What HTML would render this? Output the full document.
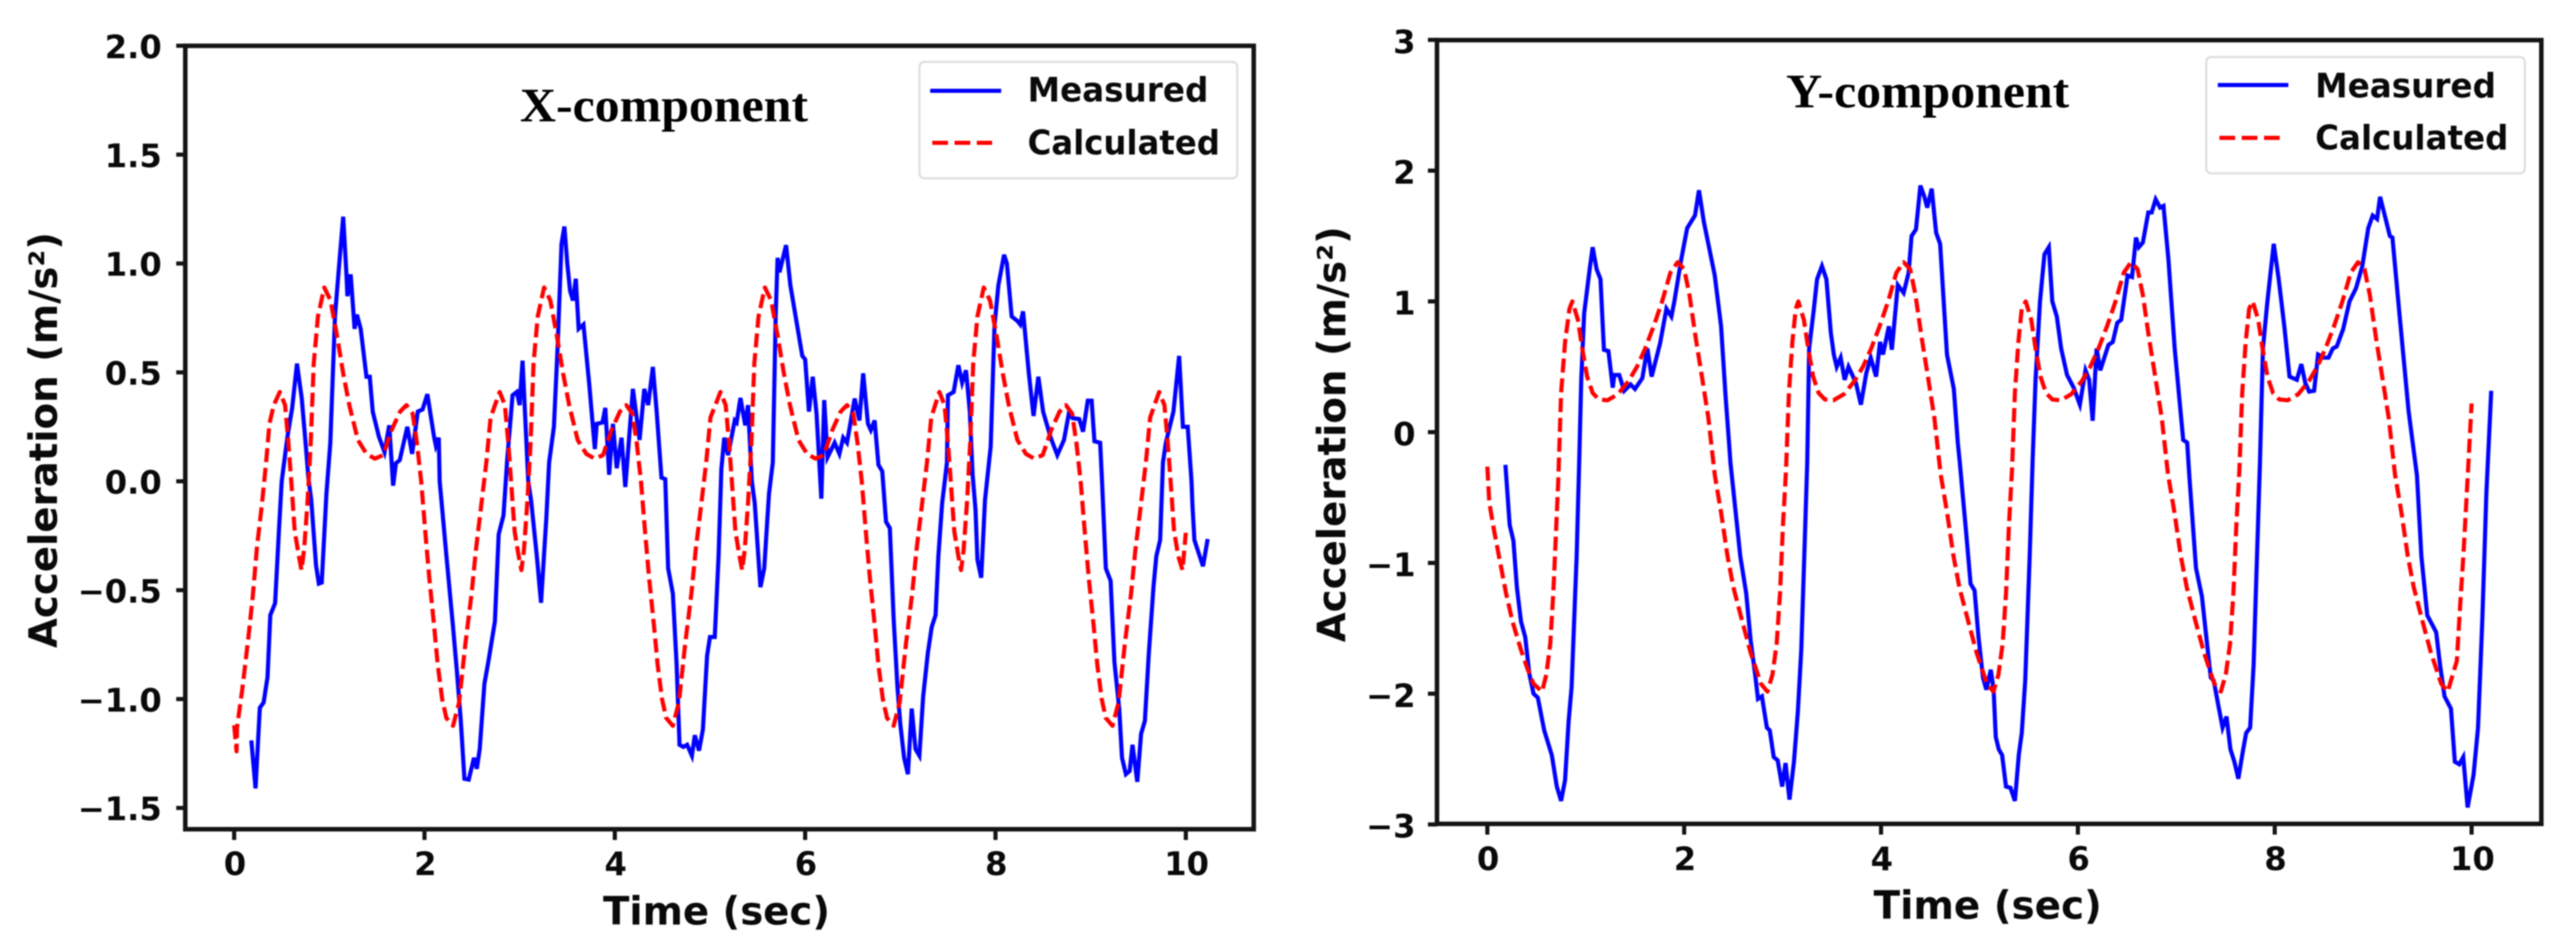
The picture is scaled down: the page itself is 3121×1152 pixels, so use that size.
<!DOCTYPE html>
<html>
<head>
<meta charset="utf-8">
<title>Measured vs calculated acceleration</title>
<style>
html,body{margin:0;padding:0;background:#fff;width:3121px;height:1152px;overflow:hidden}
svg{display:block;filter:blur(.8px)}
.tick{font-family:"DejaVu Sans",sans-serif;font-weight:700;font-size:39px;fill:#0a0a0a}
.axis-label{font-family:"DejaVu Sans",sans-serif;font-weight:700;font-size:47px;fill:#0a0a0a}
.legend-text{font-family:"DejaVu Sans",sans-serif;font-weight:700;font-size:41px;fill:#0a0a0a}
.title{font-family:"Liberation Serif",serif;font-weight:700;font-size:58px;fill:#000}
</style>
</head>
<body>
<svg id="figure" xmlns="http://www.w3.org/2000/svg" width="3121" height="1152" viewBox="0 0 3121 1152">
  <rect x="0" y="0" width="3121" height="1152" fill="#fff"/>
  <g id="panel-x"></g>
  <g id="panel-y"></g>

  <text class="title" x="630" y="147" textLength="349" lengthAdjust="spacingAndGlyphs">X-component</text>
  <text class="axis-label" x="730.6" y="1120" textLength="275" lengthAdjust="spacingAndGlyphs">Time (sec)</text>
  <text class="axis-label" transform="translate(69,785) rotate(-90)" x="0" y="0" textLength="504" lengthAdjust="spacingAndGlyphs">Acceleration (m/s²)</text>
  <g>
    <rect x="1114" y="75" width="385" height="141" rx="6" fill="#fff" fill-opacity=".85" stroke="#ddd" stroke-width="2.5"/>
    <line x1="1127" y1="110" x2="1213" y2="110" stroke="#0000ff" stroke-width="5"/>
    <text class="legend-text" x="1245" y="123" textLength="219" lengthAdjust="spacingAndGlyphs">Measured</text>
    <line x1="1129.5" y1="173" x2="1202" y2="173" stroke="#ff0000" stroke-width="5" stroke-dasharray="19 8"/>
    <text class="legend-text" x="1245" y="187" textLength="233" lengthAdjust="spacingAndGlyphs">Calculated</text>
  </g>

  <text class="title" x="2164" y="130" textLength="343" lengthAdjust="spacingAndGlyphs">Y-component</text>
  <text class="axis-label" x="2270" y="1113" textLength="276.5" lengthAdjust="spacingAndGlyphs">Time (sec)</text>
  <text class="axis-label" transform="translate(1630,778) rotate(-90)" x="0" y="0" textLength="504" lengthAdjust="spacingAndGlyphs">Acceleration (m/s²)</text>
  <g>
    <rect x="2673" y="69" width="386" height="141" rx="6" fill="#fff" fill-opacity=".85" stroke="#ddd" stroke-width="2.5"/>
    <line x1="2687" y1="103" x2="2772.5" y2="103" stroke="#0000ff" stroke-width="5"/>
    <text class="legend-text" x="2805" y="118" textLength="219" lengthAdjust="spacingAndGlyphs">Measured</text>
    <line x1="2689" y1="167" x2="2762" y2="167" stroke="#ff0000" stroke-width="5" stroke-dasharray="19 8"/>
    <text class="legend-text" x="2805" y="181" textLength="234" lengthAdjust="spacingAndGlyphs">Calculated</text>
  </g>
</svg>
<script>
const timeTicks = [0, 2, 4, 6, 8, 10];
const xChartAccelTicks = [2.0, 1.5, 1.0, 0.5, 0.0, -0.5, -1.0, -1.5];
const yChartAccelTicks = [3, 2, 1, 0, -1, -2, -3];

const xMeasuredTimes = [.18,.225,.27,.31,.35,.38,.43,.47,.5,.56,.61,.66,.71,.75,.78,.81,.86,.89,.92,.97,1.01,1.06,1.10,1.146,1.18,1.19,1.225,1.265,1.29,1.33,1.39,1.425,1.456,1.52,1.58,1.63,1.67,1.70,1.74,1.82,1.87,1.93,1.98,2.03,2.10,2.12,2.15,2.16,2.18,2.23,2.30,2.34,2.38,2.42,2.465,2.52,2.55,2.58,2.63,2.67,2.74,2.78,2.83,2.87,2.925,2.97,3.0,3.03,3.09,3.12,3.18,3.225,3.28,3.31,3.36,3.40,3.44,3.47,3.50,3.53,3.56,3.59,3.62,3.67,3.73,3.79,3.81,3.87,3.90,3.94,3.98,4.02,4.07,4.11,4.19,4.26,4.31,4.35,4.40,4.44,4.49,4.53,4.56,4.61,4.65,4.68,4.72,4.76,4.81,4.84,4.885,4.925,4.97,5.0,5.05,5.09,5.12,5.15,5.19,5.26,5.28,5.32,5.37,5.40,5.44,5.47,5.53,5.57,5.62,5.66,5.69,5.71,5.73,5.80,5.845,5.97,6.0,6.04,6.08,6.12,6.17,6.20,6.235,6.31,6.36,6.40,6.44,6.52,6.57,6.61,6.66,6.69,6.73,6.77,6.81,6.85,6.89,6.93,6.97,7.0,7.04,7.08,7.12,7.16,7.20,7.24,7.29,7.33,7.37,7.40,7.44,7.49,7.50,7.56,7.61,7.65,7.69,7.73,7.76,7.79,7.81,7.85,7.89,7.95,7.99,8.03,8.09,8.12,8.17,8.23,8.26,8.29,8.35,8.40,8.45,8.50,8.58,8.65,8.72,8.77,8.81,8.88,8.92,8.97,9.01,9.04,9.10,9.12,9.16,9.21,9.25,9.30,9.33,9.37,9.41,9.44,9.49,9.53,9.57,9.61,9.66,9.69,9.73,9.76,9.79,9.87,9.93,9.97,10.02,10.06,10.07,10.09,10.18,10.23];
const xMeasuredValues = [-1.19,-1.41,-1.04,-1.016,-.90,-.615,-.56,-.23,0,.206,.337,.54,.38,.177,.017,-.086,-.386,-.47,-.465,-.057,.177,.76,.975,1.215,.946,.85,.95,.70,.765,.70,.48,.48,.32,.206,.134,.257,-.02,.083,.097,.25,.126,.32,.33,.40,.206,.163,.2,0,-.1,-.34,-.67,-.87,-1.09,-1.366,-1.37,-1.27,-1.32,-1.23,-.93,-.83,-.644,-.243,-.157,.104,.395,.41,.35,.554,0,-.086,-.343,-.558,-.17,.086,.25,.627,1.09,1.17,1.0,.874,.83,.93,.70,.72,.45,.148,.264,.27,.337,.03,.264,.06,.2,-.026,.424,.19,.424,.35,.525,.32,.017,.01,-.4,-.515,-.844,-1.21,-1.22,-1.21,-1.26,-1.166,-1.237,-1.14,-.80,-.715,-.715,-.343,.057,.2,.12,.279,.27,.383,.257,.35,0,-.1,-.486,-.4,-.057,.086,.76,1.026,.96,1.084,.90,.576,.56,.32,.48,.31,-.08,.373,.11,.177,.126,.2,.177,.38,.279,.496,.264,.235,.279,.075,.046,-.186,-.215,-.63,-.944,-1.116,-1.27,-1.345,-1.044,-1.23,-1.26,-.987,-.787,-.67,-.615,-.343,-.1,.086,.395,.41,.533,.453,.51,.32,.03,-.13,-.36,-.443,-.086,.16,.714,.90,1.04,1.0,.757,.736,.72,.78,.496,.30,.48,.32,.2,.12,.19,.31,.29,.286,.228,.37,.37,.184,.177,0,-.4,-.457,-.83,-1.044,-1.27,-1.345,-1.33,-1.21,-1.38,-1.16,-1.1,-.80,-.486,-.343,-.27,.086,.177,.32,.576,.25,.25,0,-.114,-.27,-.39,-.265];

const xCalculatedTimes = [0,.025,.03,.084,.15,.195,.24,.29,.336,.37,.416,
.48,.535,.57,.60,.637,.68,.708,.735,.77,.805,.836,.88,.947,1.013,1.08,1.146,1.21,1.30,1.39,1.478,1.566,1.655,1.743,1.81,1.876,1.92,1.965,2.01,2.05,2.10,2.14,2.186,2.23,2.30,2.363,2.43,2.495,2.54,2.584,2.65,2.695,
2.79,2.845,2.88,2.91,2.947,2.99,3.018,3.045,3.08,3.115,3.146,3.19,3.257,3.323,3.39,3.456,3.52,3.61,3.70,3.788,3.876,3.965,4.053,4.12,4.186,4.23,4.275,4.32,4.36,4.41,4.45,4.496,4.54,4.61,4.673,4.74,4.805,4.85,4.894,4.96,5.005,
5.11,5.165,5.20,5.23,5.267,5.31,5.338,5.365,5.40,5.435,5.466,5.51,5.577,5.643,5.71,5.776,5.84,5.93,6.02,6.108,6.196,6.285,6.373,6.44,6.506,6.55,6.595,6.64,6.68,6.73,6.77,6.816,6.86,6.93,6.993,7.06,7.125,7.17,7.214,7.28,7.325,
7.41,7.465,7.50,7.53,7.567,7.61,7.638,7.665,7.70,7.735,7.766,7.81,7.877,7.943,8.01,8.076,8.14,8.23,8.32,8.408,8.496,8.585,8.673,8.74,8.806,8.85,8.895,8.94,8.98,9.03,9.07,9.116,9.16,9.23,9.293,9.36,9.425,9.47,9.514,9.58,9.625,
9.72,9.775,9.81,9.84,9.877,9.92,9.965,10.0];
const xCalculatedValues = [-1.12,-1.24,-1.13,-.96,-.715,-.53,-.30,-.114,.086,.264,.35,
.41,.35,.177,0,-.23,-.343,-.408,-.315,-.1,.177,.54,.757,.89,.83,.67,.496,.35,.19,.126,.104,.12,.235,.32,.35,.31,.177,0,-.243,-.443,-.658,-.844,-1,-1.087,-1.123,-1.016,-.744,-.515,-.315,-.157,.086,.293,
.41,.35,.177,0,-.23,-.343,-.408,-.315,-.1,.177,.54,.757,.89,.83,.67,.496,.35,.19,.126,.104,.12,.235,.32,.35,.31,.177,0,-.243,-.443,-.658,-.844,-1,-1.087,-1.123,-1.016,-.744,-.515,-.315,-.157,.086,.293,
.41,.35,.177,0,-.23,-.343,-.408,-.315,-.1,.177,.54,.757,.89,.83,.67,.496,.35,.19,.126,.104,.12,.235,.32,.35,.31,.177,0,-.243,-.443,-.658,-.844,-1,-1.087,-1.123,-1.016,-.744,-.515,-.315,-.157,.086,.293,
.41,.35,.177,0,-.23,-.343,-.408,-.315,-.1,.177,.54,.757,.89,.83,.67,.496,.35,.19,.126,.104,.12,.235,.32,.35,.31,.177,0,-.243,-.443,-.658,-.844,-1,-1.087,-1.123,-1.016,-.744,-.515,-.315,-.157,.086,.293,
.41,.35,.177,0,-.23,-.343,-.408,-.236];

const yMeasuredTimes = [.184,.227,.265,.30,.342,.385,.428,.47,.513,.578,.655,.706,.75,.79,.826,.856,.877,.907,.933,.954,.984,1.04,1.07,1.11,1.15,1.185,1.23,1.275,1.29,1.34,1.39,1.455,1.50,1.575,1.626,1.67,1.755,1.82,1.87,1.90,1.97,2.03,2.11,2.15,2.2,2.31,2.375,2.42,2.46,2.47,2.57,2.63,2.675,2.72,2.75,2.79,2.84,2.87,2.91,2.95,2.995,3.03,3.07,3.115,3.155,3.19,3.23,3.25,3.27,3.316,3.35,3.40,3.445,3.49,3.52,3.55,3.59,3.63,3.67,3.745,3.795,3.85,3.895,3.95,3.99,4.02,4.08,4.11,4.17,4.23,4.28,4.31,4.355,4.40,4.44,4.47,4.515,4.56,4.60,4.67,4.74,4.78,4.80,4.866,4.91,4.95,4.99,5.036,5.07,5.115,5.144,5.166,5.196,5.23,5.27,5.315,5.36,5.40,5.43,5.465,5.51,5.54,5.57,5.615,5.66,5.705,5.74,5.786,5.83,5.89,5.957,6.02,6.077,6.115,6.15,6.19,6.227,6.31,6.355,6.40,6.44,6.505,6.55,6.59,6.62,6.66,6.715,6.75,6.79,6.835,6.87,6.92,6.984,7.07,7.11,7.134,7.2,7.26,7.305,7.35,7.38,7.41,7.47,7.51,7.55,7.59,7.63,7.68,7.71,7.75,7.785,7.82,7.85,7.88,7.925,7.99,8.04,8.097,8.15,8.225,8.27,8.31,8.35,8.40,8.44,8.50,8.546,8.59,8.63,8.695,8.76,8.825,8.89,8.95,8.995,9.04,9.07,9.12,9.17,9.196,9.27,9.36,9.445,9.49,9.55,9.64,9.68,9.725,9.79,9.83,9.875,9.915,9.96,10.02,10.065,10.11,10.15,10.2];
const yMeasuredValues = [-.25,-.71,-.83,-1.186,-1.448,-1.567,-1.853,-2.0,-2.03,-2.28,-2.47,-2.71,-2.82,-2.66,-2.21,-1.95,-1.54,-.95,-.23,.40,.908,1.246,1.415,1.246,1.17,.63,.62,.34,.437,.437,.316,.365,.33,.413,.64,.425,.68,.944,.884,1.0,1.32,1.56,1.657,1.85,1.61,1.2,.81,.28,-.13,-.23,-.95,-1.23,-1.59,-1.85,-2.04,-2.02,-2.26,-2.28,-2.485,-2.51,-2.71,-2.53,-2.81,-2.52,-2.14,-1.66,-.71,-.23,.64,.93,1.17,1.27,1.17,.76,.594,.5,.57,.40,.50,.377,.21,.45,.57,.425,.69,.594,.81,.63,1.125,1.065,1.22,1.5,1.55,1.886,1.80,1.717,1.862,1.524,1.44,.594,.33,-.08,-.23,-.78,-1.16,-1.21,-1.567,-1.877,-1.97,-1.817,-1.97,-2.33,-2.425,-2.47,-2.71,-2.72,-2.82,-2.47,-2.3,-1.9,-.95,-.23,.40,1.0,1.36,1.415,1.0,.884,.64,.437,.34,.21,.473,.40,.087,.64,.473,.667,.69,.836,.86,1.198,1.186,1.488,1.415,1.45,1.68,1.68,1.78,1.717,1.73,1.32,.64,-.06,-.08,-.35,-1.04,-1.257,-1.567,-1.877,-1.90,-2.02,-2.26,-2.175,-2.425,-2.52,-2.65,-2.425,-2.3,-2.26,-1.78,-.95,-.23,.64,1.0,1.44,1.17,.81,.425,.40,.52,.377,.31,.316,.594,.57,.57,.64,.655,.787,1.0,1.10,1.27,1.56,1.657,1.63,1.80,1.65,1.5,1.488,.884,.16,-.33,-.95,-1.40,-1.53,-1.78,-2.02,-2.115,-2.52,-2.54,-2.485,-2.87,-2.62,-2.26,-1.42,-.47,.316];

const yCalculatedTimes = [0,.02,.07,.13,.19,.257,.34,.406,.47,.556,.6,.64,.67,.693,.72,.75,.79,.834,
.864,.92,.964,1.014,1.07,1.134,1.22,1.326,1.434,1.52,1.604,1.69,1.776,1.86,1.934,2.0,2.054,2.118,2.18,2.246,2.31,2.375,2.44,2.50,2.59,2.675,2.78,2.846,2.897,2.94,2.974,3.004,3.034,3.064,3.099,3.134,
3.16,3.216,3.26,3.31,3.366,3.43,3.516,3.622,3.73,3.816,3.90,3.986,4.072,4.156,4.23,4.296,4.35,4.414,4.476,4.542,4.606,4.671,4.736,4.796,4.886,4.971,5.076,5.142,5.193,5.236,5.27,5.30,5.33,5.36,5.395,5.43,
5.47,5.526,5.57,5.62,5.676,5.74,5.826,5.932,6.04,6.126,6.21,6.296,6.382,6.466,6.54,6.606,6.66,6.724,6.786,6.852,6.916,6.981,7.046,7.106,7.196,7.281,7.386,7.452,7.503,7.546,7.58,7.61,7.64,7.67,7.705,7.74,
7.776,7.832,7.876,7.926,7.982,8.046,8.132,8.238,8.346,8.432,8.516,8.602,8.688,8.772,8.846,8.912,8.966,9.03,9.092,9.158,9.222,9.287,9.352,9.412,9.502,9.587,9.692,9.758,9.809,9.85,9.886,9.916,9.96,10.0];
const yCalculatedValues = [-.263,-.54,-.757,-.995,-1.234,-1.45,-1.66,-1.805,-1.925,-1.984,-1.853,-1.615,-1.234,-.852,-.376,.30,.69,.944,
1,.86,.64,.425,.30,.25,.244,.29,.39,.50,.64,.81,1,1.22,1.30,1.246,1.05,.715,.425,.11,-.324,-.614,-.948,-1.186,-1.448,-1.686,-1.925,-1.984,-1.853,-1.615,-1.234,-.71,-.3,.30,.69,.944,
1,.86,.64,.425,.30,.25,.244,.29,.39,.50,.64,.81,1,1.22,1.30,1.246,1.05,.715,.425,.11,-.324,-.614,-.948,-1.186,-1.448,-1.686,-1.925,-1.984,-1.853,-1.615,-1.234,-.71,-.3,.30,.69,.944,
1,.86,.64,.425,.30,.25,.244,.29,.39,.50,.64,.81,1,1.22,1.30,1.246,1.05,.715,.425,.11,-.324,-.614,-.948,-1.186,-1.448,-1.686,-1.925,-1.984,-1.853,-1.615,-1.234,-.71,-.3,.30,.69,.944,
1,.86,.64,.425,.30,.25,.244,.29,.39,.50,.64,.81,1,1.22,1.30,1.246,1.05,.715,.425,.11,-.324,-.614,-.948,-1.186,-1.448,-1.686,-1.925,-1.984,-1.853,-1.75,-1.3,-.95,-.35,.22];

const SVG_NS = 'http://www.w3.org/2000/svg';

function make(tag, parent, attrs) {
  const el = document.createElementNS(SVG_NS, tag);
  for (const k in attrs) el.setAttribute(k, attrs[k]);
  parent.appendChild(el);
  return el;
}

function formatMinus(s) { return s.replace('-', '\u2212'); }

function drawPanel(cfg) {
  const g = document.getElementById(cfg.id);
  const sx = t => cfg.x0 + cfg.xPerSec * t;
  const sy = v => cfg.y0 - cfg.yPerUnit * v;
  const pts = (ts, vs) => ts.map((t, i) => sx(t).toFixed(1) + ',' + sy(vs[i]).toFixed(1)).join(' ');

  const measured = make('polyline', g, {points: pts(cfg.mt, cfg.mv), fill: 'none', stroke: '#0000ff', 'stroke-width': 5, 'stroke-linejoin': 'miter', 'stroke-miterlimit': 4});
  
  

  const calculated = make('polyline', g, {points: pts(cfg.ct, cfg.cv), fill: 'none', stroke: '#ff0000', 'stroke-width': 5, 'stroke-dasharray': '17 7', 'stroke-linejoin': 'round'});
  
  

  const frame = make('rect', g, {x: cfg.left, y: cfg.top, width: cfg.right - cfg.left, height: cfg.bottom - cfg.top, fill: 'none', stroke: '#141414', 'stroke-width': 5.5});
  
  

  cfg.xTicks.forEach(t => {
    const tick = make('line', g, {x1: sx(t), x2: sx(t), y1: cfg.bottom, y2: cfg.bottom + 13, stroke: '#141414', 'stroke-width': 5});
    
    
    const label = make('text', g, {x: sx(t) + 1, y: cfg.xLabelY, 'text-anchor': 'middle', class: 'tick'});
    label.textContent = String(t);
    
    
  });

  cfg.yTicks.forEach(v => {
    const tick = make('line', g, {x1: cfg.left - 11, x2: cfg.left, y1: sy(v), y2: sy(v), stroke: '#141414', 'stroke-width': 5});
    
    
    const label = make('text', g, {x: cfg.yLabelX, y: sy(v) + cfg.yLabelDy, 'text-anchor': 'end', class: 'tick'});
    label.textContent = formatMinus(v.toFixed(cfg.decimals));
    
    
  });
}

drawPanel({id: 'panel-x', left: 224.5, right: 1519, top: 55.5, bottom: 1004.5,
  x0: 283.7, xPerSec: 115.3, y0: 583, yPerUnit: 263.8,
  xTicks: timeTicks, yTicks: xChartAccelTicks, decimals: 1,
  xLabelY: 1060, yLabelX: 196, yLabelDy: 15,
  mt: xMeasuredTimes, mv: xMeasuredValues, ct: xCalculatedTimes, cv: xCalculatedValues});

drawPanel({id: 'panel-y', left: 1741, right: 3079, top: 48.6, bottom: 998,
  x0: 1802, xPerSec: 119.25, y0: 523.5, yPerUnit: 158.4,
  xTicks: timeTicks, yTicks: yChartAccelTicks, decimals: 0,
  xLabelY: 1054, yLabelX: 1715, yLabelDy: 16,
  mt: yMeasuredTimes, mv: yMeasuredValues, ct: yCalculatedTimes, cv: yCalculatedValues});
</script>
</body>
</html>
